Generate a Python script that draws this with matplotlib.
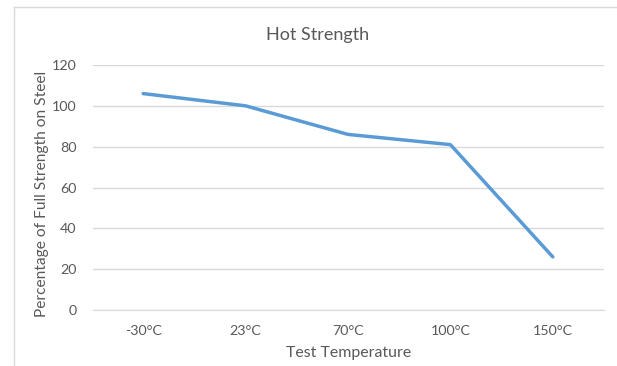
import matplotlib.pyplot as plt
from matplotlib.lines import Line2D

plt.rcParams['font.family'] = ['Lato', 'DejaVu Sans']

temps = ['-30\u00b0C', '23\u00b0C', '70\u00b0C', '100\u00b0C', '150\u00b0C']
strength = [106, 100, 86, 81, 26]
yticks = [0, 20, 40, 60, 80, 100, 120]

text_c = '#595959'
grid_c = '#d9d9d9'

fig = plt.figure(figsize=(6.17, 3.66), dpi=100)

# outer chart frame (left and top edges only show in the crop)
fig.add_artist(Line2D([14 / 617, 14 / 617], [0, 1 - 7 / 366], color=grid_c, lw=1))
fig.add_artist(Line2D([14 / 617, 1], [1 - 7 / 366, 1 - 7 / 366], color=grid_c, lw=1))

ax = fig.add_axes([93 / 617, 1 - 310 / 366, 511 / 617, 245 / 366])
x = list(range(len(temps)))
ax.plot(x, strength, color='#5b9bd5', lw=2.5, solid_capstyle='round', solid_joinstyle='round')

ax.set_xlim(-0.49, 4.5)
ax.set_ylim(0, 120)
ax.set_yticks(yticks)
ax.set_xticks(x)
ax.set_xticklabels(temps)
ax.grid(axis='y', color=grid_c, lw=1)
ax.set_axisbelow(True)
for s in ['top', 'right', 'left']:
    ax.spines[s].set_visible(False)
ax.spines['bottom'].set_color(grid_c)
ax.tick_params(length=0, colors=text_c, labelsize=10.3)
ax.tick_params(axis='x', pad=11)
ax.tick_params(axis='y', pad=12)

fig.text(318 / 617, 1 - 35 / 366, 'Hot Strength', color=text_c, fontsize=13,
         ha='center', va='center')
ax.set_xlabel('Test Temperature', color=text_c, fontsize=11.4)
ax.xaxis.set_label_coords(0.5, -(346 - 310) / 245)
ax.set_ylabel('Percentage of Full Strength on Steel', color=text_c, fontsize=11.2)
ax.yaxis.set_label_coords(-(93 - 49) / 511, (310 - 194) / 245)

fig.savefig('out.png', dpi=100)
